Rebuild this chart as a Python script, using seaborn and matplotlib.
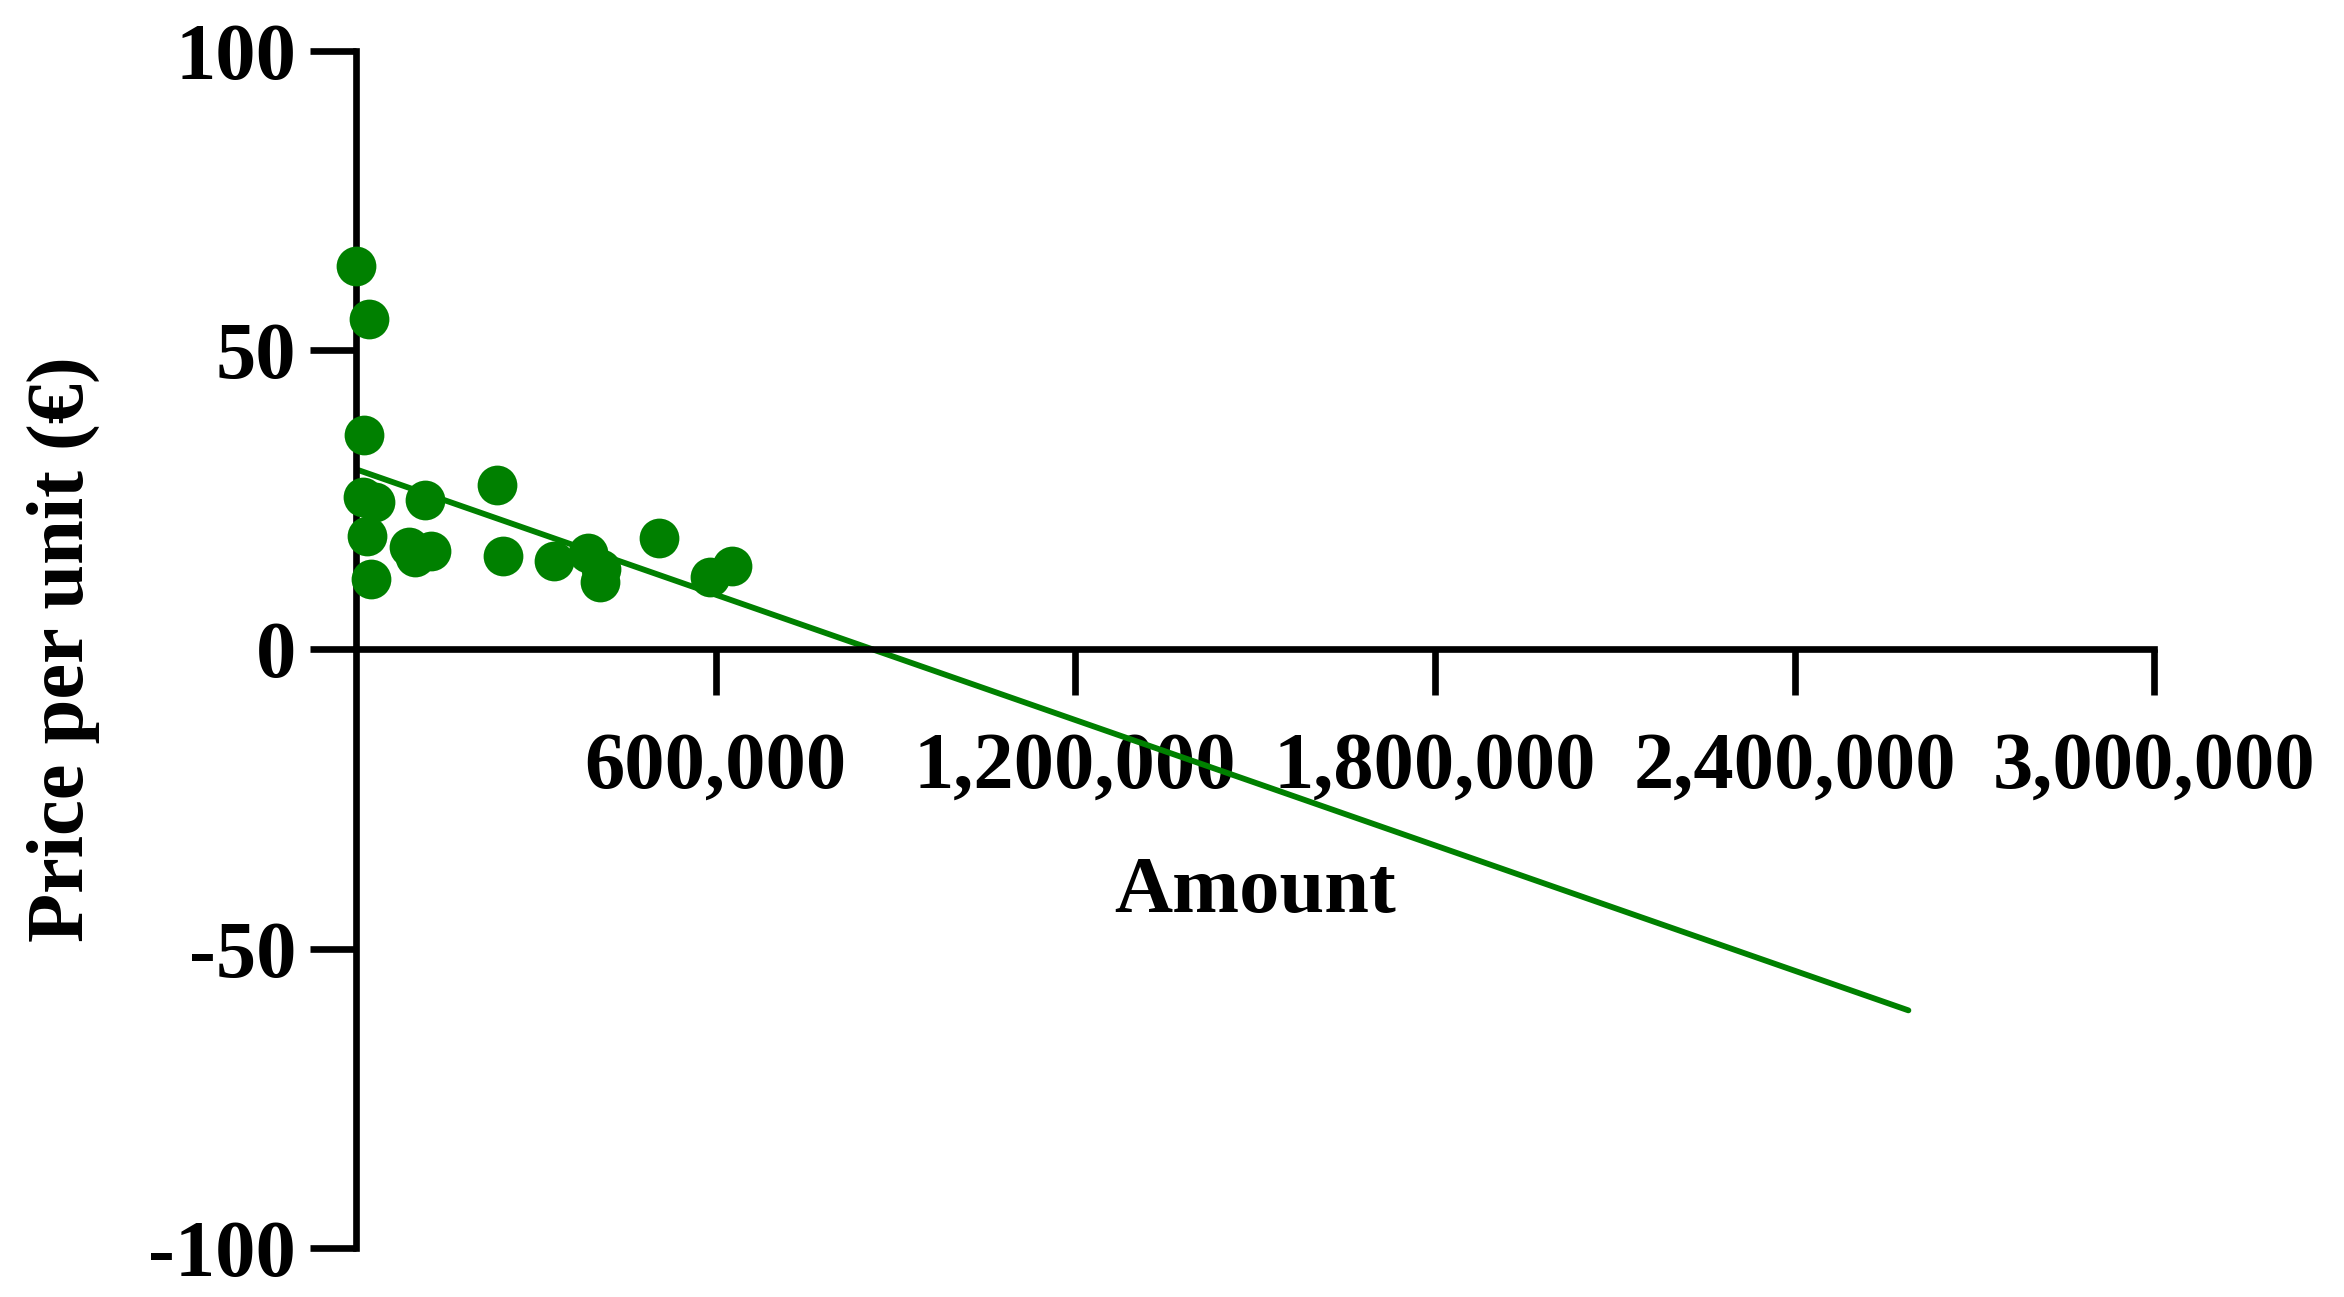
"""
Price per unit vs. amount, with a linear trend line.
"""

import matplotlib
matplotlib.use("Agg")
import matplotlib.pyplot as plt
import matplotlib.ticker as mticker
import numpy as np
import pandas as pd
import seaborn as sns

# points
amount = [0, 22000, 13000, 12000, 31000, 115000, 235000, 18000, 25000, 89000,
          98000, 125000, 246000, 331000, 387000, 408000, 407000, 505000, 591000, 628000]
price = [64.1, 55.3, 35.8, 25.5, 24.7, 24.9, 27.5, 18.9, 11.7, 17.1,
         15.4, 16.4, 15.7, 14.7, 16.2, 13.5, 11.2, 18.6, 12.1, 13.9]

# trend line end points
fit_x = [0, 2590000]
fit_y = [30.1, -60.3]

x_ticks = [600000, 1200000, 1800000, 2400000, 3000000]
y_ticks = [-100, -50, 0, 50, 100]

GREEN = "#008000"


def main():
    sns.set_style("ticks")
    plt.rcParams["font.family"] = ["Liberation Serif", "DejaVu Serif"]
    plt.rcParams["font.weight"] = "bold"
    plt.rcParams["axes.unicode_minus"] = False
    plt.rcParams["text.color"] = "black"
    plt.rcParams["axes.labelcolor"] = "black"
    plt.rcParams["xtick.labelcolor"] = "black"
    plt.rcParams["ytick.labelcolor"] = "black"

    df = pd.DataFrame({"amount": amount, "price": price})
    fit = pd.DataFrame({"amount": fit_x, "price": fit_y})

    fig = plt.figure(figsize=(11.72, 6.485), dpi=200)
    ax = fig.add_axes([0.1519, 0.0378, 0.9190 - 0.1519, 0.9607 - 0.0378])

    sns.lineplot(data=fit, x="amount", y="price", color=GREEN, lw=2.1, ax=ax)
    sns.scatterplot(data=df, x="amount", y="price", color=GREEN, s=205,
                    linewidth=0, alpha=1, ax=ax, zorder=3, clip_on=False)

    ax.set_xlim(0, 3000000)
    ax.set_ylim(-100, 100)
    ax.set_xticks(x_ticks)
    ax.set_yticks(y_ticks)
    ax.xaxis.set_major_formatter(mticker.FuncFormatter(lambda v, p: f"{int(v):,}"))

    for side in ["top", "right"]:
        ax.spines[side].set_visible(False)
    ax.spines["left"].set_position(("data", 0))
    ax.spines["bottom"].set_position(("data", 0))
    for side in ["left", "bottom"]:
        ax.spines[side].set_linewidth(2.4)
        ax.spines[side].set_color("black")
        ax.spines[side].set_clip_on(False)

    ax.tick_params(axis="both", direction="out", length=16.5, width=2.4,
                   color="black", labelcolor="black", labelsize=29)
    ax.tick_params(axis="x", pad=13)
    ax.tick_params(axis="y", pad=5)
    for lbl in ax.get_xticklabels() + ax.get_yticklabels():
        lbl.set_fontweight("bold")

    ax.set_xlabel("Amount", fontsize=29, fontweight="bold", va="center", color="black")
    ax.set_ylabel("Price per unit (€)", fontsize=29, fontweight="bold", va="center",
                  color="black")
    ax.xaxis.set_label_coords(0.5, 0.297)
    ax.yaxis.set_label_coords(-0.163, 0.5)

    fig.savefig("out.png", dpi=200, facecolor="white")


if __name__ == "__main__":
    main()
